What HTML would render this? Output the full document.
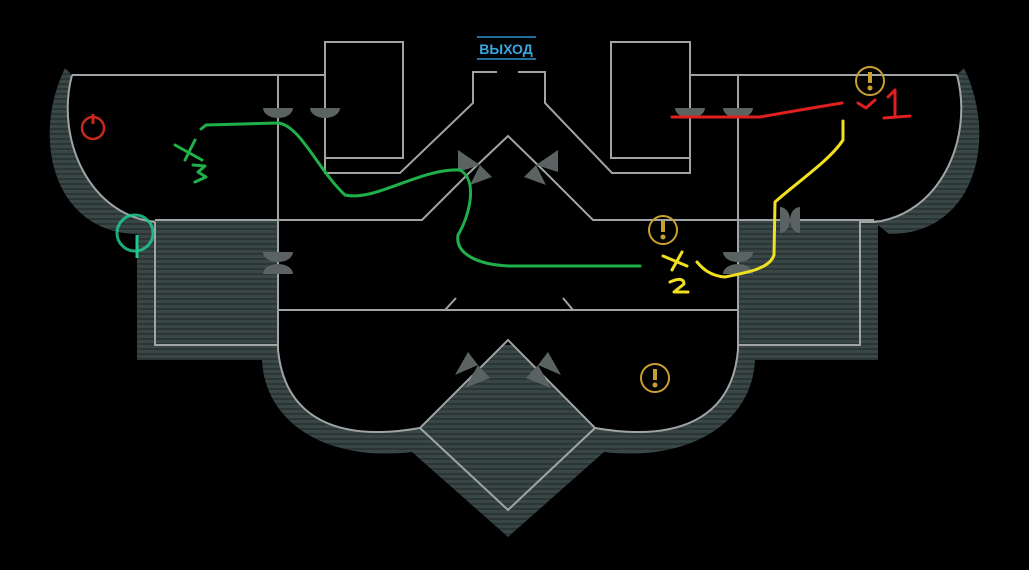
<!DOCTYPE html>
<html><head><meta charset="utf-8"><style>
html,body{margin:0;padding:0;background:#000;}
svg{display:block}
</style></head><body>
<svg width="1029" height="570" viewBox="0 0 1029 570" xmlns="http://www.w3.org/2000/svg">
<defs>
<pattern id="st" width="8" height="5" patternUnits="userSpaceOnUse">
<rect width="8" height="5" fill="#394646"/>
<rect y="3" width="8" height="2" fill="#2b3535"/>
</pattern>
</defs>
<rect width="1029" height="570" fill="#000"/>
<g fill="url(#st)">
<path d="M65,68 C30,140 55,235 140,234 L155,222 C90,215 55,140 72,75 Z"/>
<path d="M964,68 C999,140 974,235 889,234 L874,222 C939,215 974,140 957,75 Z"/>
<rect x="137" y="220" width="141" height="140"/>
<rect x="738" y="220" width="140" height="140"/>
<path d="M262,345 L262,360 C265,425 330,462 412,452 L508,537 L604,452 C686,462 752,425 755,360 L755,345 Z"/>
</g>
<path d="M278,310 L278,350 C285,420 340,442 420,428 L508,340 L595,428 C676,442 732,420 738,350 L738,310 Z" fill="#000" stroke="#a0a4a4" stroke-width="2"/>
<g fill="none" stroke="#a0a4a4" stroke-width="2">
<path d="M72,75 C55,140 90,215 155,222"/>
<path d="M957,75 C974,140 939,215 874,222"/>
<path d="M155,222 L155,345 L278,345"/>
<path d="M874,222 L860,222 L860,345 L738,345"/>
<path d="M420,428 L508,510 L595,428"/>
<path d="M72,75 L325,75"/>
<path d="M690,75 L957,75"/>
<rect x="325" y="42" width="78" height="116"/>
<rect x="611" y="42" width="79" height="116"/>
<path d="M325,158 L325,173 L400,173 L473,103 L473,72 L497,72"/>
<path d="M518,72 L545,72 L545,103 L612,173 L690,173 L690,158"/>
<path d="M278,75 L278,310"/>
<path d="M738,75 L738,345"/>
<path d="M155,220 L422,220 L470,172 L508,136 L545,172 L593,220 L874,220"/>
<path d="M278,310 L445,310 L456,298"/>
<path d="M563,298 L573,310 L738,310"/>
</g>
<g fill="#5a6262">
<path d="M263,108 A15,10 0 0 0 293,108 Z"/>
<path d="M310,108 A15,10 0 0 0 340,108 Z"/>
<path d="M675,108 A15,10 0 0 0 705,108 Z"/>
<path d="M723,108 A15,10 0 0 0 753,108 Z"/>
<path d="M263,252 A15,10 0 0 0 293,252 Z M263,274 A15,10 0 0 1 293,274 Z"/>
<path d="M723,252 A15,10 0 0 0 753,252 Z M723,274 A15,10 0 0 1 753,274 Z"/>
<path d="M780,207 A10,13 0 0 1 780,233 Z M800,207 A10,13 0 0 0 800,233 Z"/>
<path d="M458,150 L480,165 L458,172 Z M470,185 L480,165 L492,177 Z"/>
<path d="M558,150 L536,165 L558,172 Z M546,185 L536,165 L524,177 Z"/>
<path d="M455,375 L478,365 L468,352 Z M465,388 L478,365 L490,378 Z"/>
<path d="M561,375 L538,365 L548,352 Z M551,388 L538,365 L526,378 Z"/>
</g>
<g>
<line x1="477" y1="37" x2="536" y2="37" stroke="#1f6f9a" stroke-width="2"/>
<line x1="477" y1="59" x2="536" y2="59" stroke="#1f6f9a" stroke-width="2"/>
<text x="506" y="54" text-anchor="middle" font-family="'Liberation Sans',sans-serif" font-weight="bold" font-size="14" fill="#3aa8e0">ВЫХОД</text>
</g>
<circle cx="93" cy="128" r="11" fill="none" stroke="#c8281c" stroke-width="2.5"/>
<line x1="93" y1="114" x2="93" y2="124" stroke="#c8281c" stroke-width="3"/>
<circle cx="135" cy="233" r="18" fill="none" stroke="#1ec890" stroke-width="3" opacity="0.85"/>
<line x1="137" y1="235" x2="137" y2="258" stroke="#1ec890" stroke-width="3"/>
<g fill="none" stroke="#c8a030" stroke-width="2">
<circle cx="870" cy="81" r="14"/><circle cx="663" cy="230" r="14"/><circle cx="655" cy="378" r="14"/>
</g>
<g fill="#c8a030">
<rect x="868" y="72" width="4" height="11"/><circle cx="870" cy="88" r="2.5"/>
<rect x="661" y="221" width="4" height="11"/><circle cx="663" cy="237" r="2.5"/>
<rect x="653" y="369" width="4" height="11"/><circle cx="655" cy="385" r="2.5"/>
</g>
<g fill="none" stroke-width="3" stroke-linecap="round" stroke-linejoin="round">
<path stroke="#1fb04a" d="M201,129 L206,125 L278,123 C300,125 318,170 345,195 C375,202 420,168 460,170 C478,180 470,215 458,235 C455,255 480,265 510,266 L640,266"/>
<path stroke="#1fb04a" d="M175,145 L202,160 M195,140 L185,160 M193,165 L205,166 L198,172 L206,177 L195,182"/>
<path stroke="#e02020" d="M672,117 L760,117 L800,110 L842,103"/>
<path stroke="#e02020" d="M858,103 L866,108 L875,100 M888,97 L895,90 L895,117 M884,118 L910,116"/>
<path stroke="#f0e020" d="M843,121 L843,140 C830,160 800,180 775,202 L774,255 C770,268 750,272 725,277 C710,276 702,268 697,262"/>
<path stroke="#f0e020" d="M663,256 L687,266 M682,252 L672,270 M670,282 Q684,276 684,284 L674,292 L688,292"/>
</g>
</svg>
</body></html>
